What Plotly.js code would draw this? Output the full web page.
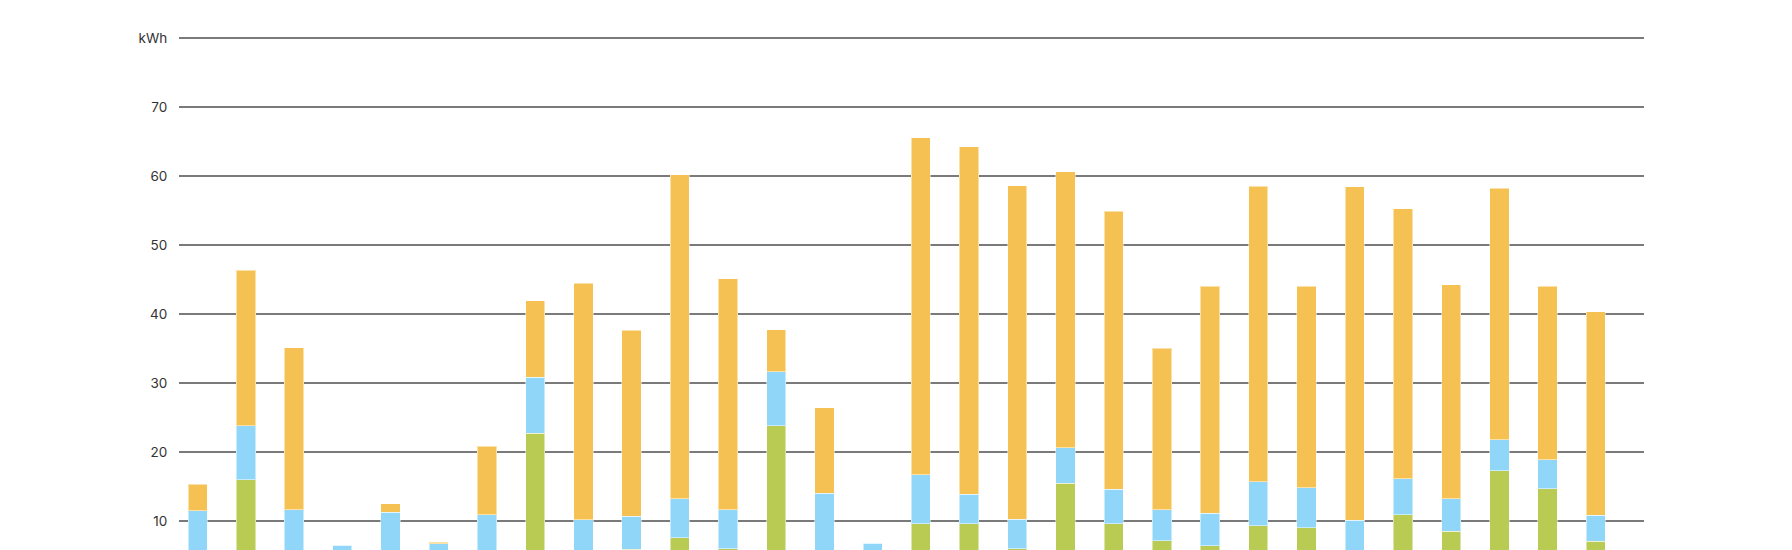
<!DOCTYPE html>
<html>
<head>
<meta charset="utf-8">
<script src="https://cdn.plot.ly/plotly-3.0.1.min.js"></script>
<style>
html,body{margin:0;padding:0;background:#fff;overflow:hidden;}
#chart{width:1792px;height:680px;}
</style>
</head>
<body>
<div id="chart"></div>
<script>
const days = [1,2,3,4,5,6,7,8,9,10,11,12,13,14,15,16,17,18,19,20,21,22,23,24,25,26,27,28,29,30];
const green  = [0,16.0,0,0,0,0,0,22.7,0,5.9,7.6,5.95,23.8,0,0,9.6,9.6,6.0,15.5,9.6,7.1,6.4,9.3,9.0,0,10.9,8.5,17.25,14.7,7.05];
const blue   = [11.5,7.8,11.6,6.5,11.3,6.7,10.9,8.1,10.2,4.8,5.6,5.7,7.85,14.0,6.8,7.1,4.3,4.25,5.1,5.0,4.55,4.7,6.35,5.8,10.1,5.2,4.7,4.55,4.2,3.75];
const orange = [3.8,22.5,23.5,0,1.2,0.2,9.9,11.1,34.25,26.9,46.95,33.45,6.05,12.4,0,48.8,50.3,48.35,40.0,40.3,23.35,32.9,42.85,29.2,48.3,39.1,31.0,36.4,25.1,29.5];
const yTickVals = [10,20,30,40,50,60,70,80];
const yTickText = ['10','20','30','40','50','60','70','kWh'];

const line = {color:'rgba(255,255,255,0.5)', width:1};
const traces = [
  {type:'bar', x:days, y:green,  marker:{color:'#B9CB52', line:line}, name:'green'},
  {type:'bar', x:days, y:blue,   marker:{color:'#8FD6F8', line:line}, name:'blue'},
  {type:'bar', x:days, y:orange, marker:{color:'#F4C152', line:line}, name:'orange'}
];
const layout = {
  width:1792, height:680,
  margin:{l:179, r:148, t:24, b:90, pad:0},
  barmode:'stack', bargap:0.6,
  showlegend:false,
  paper_bgcolor:'#fff', plot_bgcolor:'#fff',
  font:{family:'Inter, "Open Sans", sans-serif', size:13.5, color:'#333'},
  xaxis:{range:[0.612,31.0], showgrid:false, zeroline:false, showticklabels:false, ticks:'', showline:false, fixedrange:true},
  yaxis:{range:[0,82], tickvals:yTickVals, ticktext:yTickText, showgrid:true, gridcolor:'#7a7a7a', gridwidth:1.5,
         zeroline:false, showline:false, ticks:'outside', ticklen:8, tickcolor:'rgba(0,0,0,0)',
         tickfont:{size:13.5, color:'#333'}, fixedrange:true}
};
Plotly.newPlot('chart', traces, layout, {displayModeBar:false, staticPlot:true});
</script>
</body>
</html>
